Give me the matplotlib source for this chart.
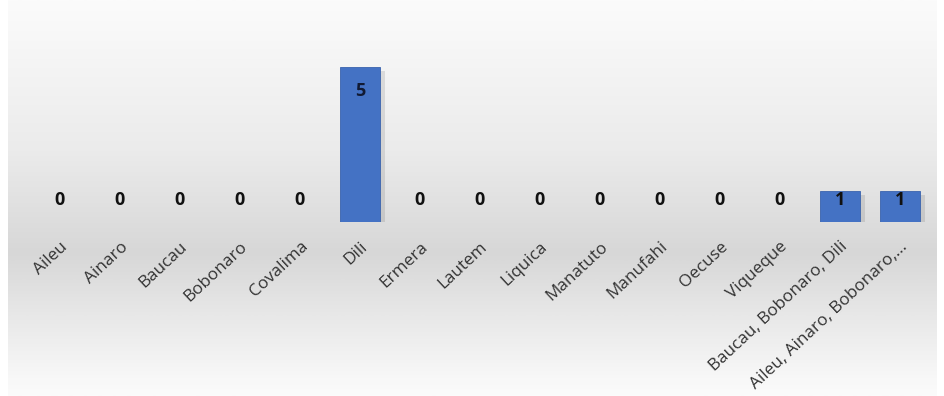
import numpy as np
import matplotlib
matplotlib.use("Agg")
import matplotlib.pyplot as plt
from matplotlib import patheffects as pe
from matplotlib.colors import LinearSegmentedColormap

categories = ["Aileu", "Ainaro", "Baucau", "Bobonaro", "Covalima", "Dili",
              "Ermera", "Lautem", "Liquica", "Manatuto", "Manufahi", "Oecuse",
              "Viqueque", "Baucau, Bobonaro, Dili", "Aileu, Ainaro, Bobonaro,..."]
counts = [0, 0, 0, 0, 0, 5, 0, 0, 0, 0, 0, 0, 0, 1, 1]

W, H = 945, 396
fig = plt.figure(figsize=(W / 100, H / 100), dpi=100)
fig.patch.set_facecolor("white")

# soft vertical gradient panel behind the chart
bg = fig.add_axes([8 / W, 0, 929 / W, 1], zorder=0)
stops = [(0.0, "#fbfbfb"), (0.10, "#f7f7f7"), (0.38, "#ebebeb"),
         (0.64, "#d7d7d7"), (0.80, "#e8e8e8"), (0.96, "#f8f8f8"), (1.0, "#fbfbfb")]
cmap = LinearSegmentedColormap.from_list("panel", stops)
grad = np.linspace(0, 1, 400).reshape(-1, 1)
bg.imshow(grad, aspect="auto", cmap=cmap, extent=[0, 1, 0, 1], origin="upper")
bg.set_axis_off()

# plot area: baseline at y=222 px, 31 px per unit
base_px = 222
unit_px = 31
ax_h_units = 5.8
ax = fig.add_axes([30 / W, (H - base_px) / H, 900 / W, ax_h_units * unit_px / H],
                  zorder=1)
ax.patch.set_alpha(0)

x = np.arange(len(categories))
bars = ax.bar(x, counts, width=0.68, color="#4472c4", edgecolor="#3a63ad",
              linewidth=0.6, zorder=3)
for b in bars:
    b.set_path_effects([pe.SimplePatchShadow(offset=(3, -3), shadow_rgbFace="#000000",
                                             alpha=0.10), pe.Normal()])

ax.set_xlim(-0.5, len(categories) - 0.5)
ax.set_ylim(0, ax_h_units)
for s in ax.spines.values():
    s.set_visible(False)
ax.set_yticks([])
ax.set_xticks(x)
ax.set_xticklabels(categories, rotation=43, ha="right", va="top",
                   rotation_mode="anchor", fontsize=12.3, color="#333333",
                   family="Open Sans")
ax.tick_params(axis="x", length=0, pad=12)

for xi, v in zip(x, counts):
    if v * unit_px >= 50:
        ax.annotate(str(v), (xi, v), xytext=(0, -24), textcoords="offset pixels",
                    ha="center", va="center", fontsize=13, fontweight="bold",
                    color="#111a33", family="Open Sans")
    else:
        ax.annotate(str(v), (xi, 0), xytext=(0, 22), textcoords="offset pixels",
                    ha="center", va="center", fontsize=13, fontweight="bold",
                    color="#111111", family="Open Sans")

fig.savefig("out.png", dpi=100, facecolor="white")
